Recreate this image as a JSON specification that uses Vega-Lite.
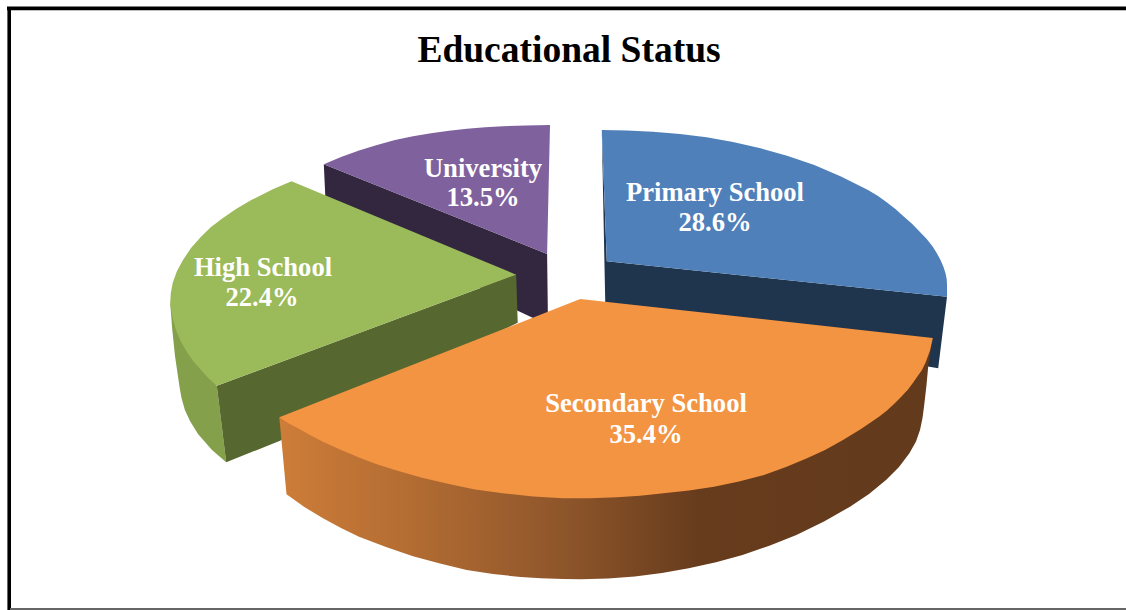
{
  "$schema": "https://vega.github.io/schema/vega-lite/v6.json",
  "width": 1126,
  "height": 610,
  "padding": 0,
  "autosize": "none",
  "background": "white",
  "config": {"view": {"stroke": null}},
  "datasets": {
    "outlines": [
      {"face": "University side", "step": 1, "x": 323.8, "y": 164.3},
      {"face": "University side", "step": 2, "x": 547.1, "y": 254},
      {"face": "University side", "step": 3, "x": 548, "y": 325},
      {"face": "University side", "step": 4, "x": 517.7, "y": 310.7},
      {"face": "University side", "step": 5, "x": 325.3, "y": 196},

      {"face": "University top", "step": 1, "x": 323.8, "y": 164.3},
      {"face": "University top", "step": 2, "x": 341, "y": 157},
      {"face": "University top", "step": 3, "x": 359, "y": 150.5},
      {"face": "University top", "step": 4, "x": 377, "y": 145},
      {"face": "University top", "step": 5, "x": 395, "y": 140},
      {"face": "University top", "step": 6, "x": 413, "y": 136.3},
      {"face": "University top", "step": 7, "x": 431, "y": 133.2},
      {"face": "University top", "step": 8, "x": 449, "y": 130.8},
      {"face": "University top", "step": 9, "x": 467, "y": 128.8},
      {"face": "University top", "step": 10, "x": 485, "y": 127.3},
      {"face": "University top", "step": 11, "x": 503, "y": 126.2},
      {"face": "University top", "step": 12, "x": 526, "y": 125.4},
      {"face": "University top", "step": 13, "x": 550, "y": 125},
      {"face": "University top", "step": 14, "x": 547.1, "y": 254},

      {"face": "Primary side", "step": 1, "x": 601.8, "y": 130},
      {"face": "Primary side", "step": 2, "x": 606.8, "y": 261.3},
      {"face": "Primary side", "step": 3, "x": 947, "y": 296.7},
      {"face": "Primary side", "step": 4, "x": 938.2, "y": 368.3},
      {"face": "Primary side", "step": 5, "x": 925, "y": 366},
      {"face": "Primary side", "step": 6, "x": 605.4, "y": 310},
      {"face": "Primary side", "step": 7, "x": 604.4, "y": 261},

      {"face": "Primary top", "step": 1, "x": 601.8, "y": 130},
      {"face": "Primary top", "step": 2, "x": 627, "y": 130.4},
      {"face": "Primary top", "step": 3, "x": 652.8, "y": 131.7},
      {"face": "Primary top", "step": 4, "x": 680, "y": 134},
      {"face": "Primary top", "step": 5, "x": 706.6, "y": 137.3},
      {"face": "Primary top", "step": 6, "x": 733, "y": 142},
      {"face": "Primary top", "step": 7, "x": 760.5, "y": 148.3},
      {"face": "Primary top", "step": 8, "x": 787, "y": 155.8},
      {"face": "Primary top", "step": 9, "x": 814.3, "y": 165},
      {"face": "Primary top", "step": 10, "x": 841, "y": 176.5},
      {"face": "Primary top", "step": 11, "x": 868, "y": 190},
      {"face": "Primary top", "step": 12, "x": 878, "y": 196},
      {"face": "Primary top", "step": 13, "x": 887, "y": 202.5},
      {"face": "Primary top", "step": 14, "x": 896, "y": 209.5},
      {"face": "Primary top", "step": 15, "x": 904, "y": 216.7},
      {"face": "Primary top", "step": 16, "x": 912, "y": 223.8},
      {"face": "Primary top", "step": 17, "x": 919, "y": 231},
      {"face": "Primary top", "step": 18, "x": 926.5, "y": 238.8},
      {"face": "Primary top", "step": 19, "x": 932.8, "y": 246.7},
      {"face": "Primary top", "step": 20, "x": 937, "y": 253.5},
      {"face": "Primary top", "step": 21, "x": 940.5, "y": 260},
      {"face": "Primary top", "step": 22, "x": 943.5, "y": 267},
      {"face": "Primary top", "step": 23, "x": 945.5, "y": 273.3},
      {"face": "Primary top", "step": 24, "x": 946.7, "y": 279},
      {"face": "Primary top", "step": 25, "x": 947, "y": 285},
      {"face": "Primary top", "step": 26, "x": 947, "y": 296.7},
      {"face": "Primary top", "step": 27, "x": 606.8, "y": 261.3},

      {"face": "High School rim", "step": 1, "x": 170.2, "y": 303.3},
      {"face": "High School rim", "step": 2, "x": 185, "y": 330},
      {"face": "High School rim", "step": 3, "x": 195, "y": 350},
      {"face": "High School rim", "step": 4, "x": 206, "y": 370},
      {"face": "High School rim", "step": 5, "x": 216.8, "y": 385.7},
      {"face": "High School rim", "step": 6, "x": 226.2, "y": 462.3},
      {"face": "High School rim", "step": 7, "x": 212, "y": 450},
      {"face": "High School rim", "step": 8, "x": 198, "y": 434},
      {"face": "High School rim", "step": 9, "x": 190, "y": 421},
      {"face": "High School rim", "step": 10, "x": 184.9, "y": 410},
      {"face": "High School rim", "step": 11, "x": 181.5, "y": 398},
      {"face": "High School rim", "step": 12, "x": 179.5, "y": 386.7},
      {"face": "High School rim", "step": 13, "x": 175, "y": 356},
      {"face": "High School rim", "step": 14, "x": 172.3, "y": 330},

      {"face": "High School side", "step": 1, "x": 516.2, "y": 274.7},
      {"face": "High School side", "step": 2, "x": 216.8, "y": 385.7},
      {"face": "High School side", "step": 3, "x": 226.2, "y": 462.3},
      {"face": "High School side", "step": 4, "x": 280, "y": 440.7},
      {"face": "High School side", "step": 5, "x": 517.7, "y": 322.7},

      {"face": "High School top", "step": 1, "x": 291.5, "y": 181.3},
      {"face": "High School top", "step": 2, "x": 516.2, "y": 274.7},
      {"face": "High School top", "step": 3, "x": 216.8, "y": 385.7},
      {"face": "High School top", "step": 4, "x": 208.5, "y": 378.3},
      {"face": "High School top", "step": 5, "x": 201, "y": 370},
      {"face": "High School top", "step": 6, "x": 193.5, "y": 361.5},
      {"face": "High School top", "step": 7, "x": 186.7, "y": 351.7},
      {"face": "High School top", "step": 8, "x": 180.8, "y": 341.5},
      {"face": "High School top", "step": 9, "x": 175.9, "y": 330},
      {"face": "High School top", "step": 10, "x": 172.3, "y": 317},
      {"face": "High School top", "step": 11, "x": 170.2, "y": 303.3},
      {"face": "High School top", "step": 12, "x": 170.8, "y": 293},
      {"face": "High School top", "step": 13, "x": 172.8, "y": 282.5},
      {"face": "High School top", "step": 14, "x": 177, "y": 271},
      {"face": "High School top", "step": 15, "x": 183, "y": 260},
      {"face": "High School top", "step": 16, "x": 191, "y": 248},
      {"face": "High School top", "step": 17, "x": 201, "y": 236.7},
      {"face": "High School top", "step": 18, "x": 211, "y": 227},
      {"face": "High School top", "step": 19, "x": 222.6, "y": 218.3},
      {"face": "High School top", "step": 20, "x": 236, "y": 209},
      {"face": "High School top", "step": 21, "x": 251.3, "y": 200},
      {"face": "High School top", "step": 22, "x": 272.8, "y": 189.3}
    ],
    "secondaryRim": [
      {"step": 1, "x": 279.3, "y": 417.3},
      {"step": 2, "x": 580, "y": 480},
      {"step": 3, "x": 932.8, "y": 338},
      {"step": 4, "x": 928.5, "y": 363.3},
      {"step": 5, "x": 926.5, "y": 385},
      {"step": 6, "x": 924, "y": 406.7},
      {"step": 7, "x": 922.5, "y": 418},
      {"step": 8, "x": 920, "y": 430},
      {"step": 9, "x": 916, "y": 441.5},
      {"step": 10, "x": 909.4, "y": 453.3},
      {"step": 11, "x": 899, "y": 467},
      {"step": 12, "x": 886, "y": 480},
      {"step": 13, "x": 869, "y": 494},
      {"step": 14, "x": 850, "y": 506.7},
      {"step": 15, "x": 824, "y": 521.5},
      {"step": 16, "x": 796.4, "y": 535},
      {"step": 17, "x": 770, "y": 545.5},
      {"step": 18, "x": 742.5, "y": 555},
      {"step": 19, "x": 716, "y": 562.3},
      {"step": 20, "x": 688.7, "y": 568.3},
      {"step": 21, "x": 662, "y": 573},
      {"step": 22, "x": 634.8, "y": 576.5},
      {"step": 23, "x": 608, "y": 578.5},
      {"step": 24, "x": 581, "y": 579.3},
      {"step": 25, "x": 563, "y": 579},
      {"step": 26, "x": 541, "y": 578.3},
      {"step": 27, "x": 520.6, "y": 577},
      {"step": 28, "x": 493, "y": 574},
      {"step": 29, "x": 466.7, "y": 570},
      {"step": 30, "x": 440, "y": 563.5},
      {"step": 31, "x": 413, "y": 556.2},
      {"step": 32, "x": 386, "y": 547},
      {"step": 33, "x": 359, "y": 536.7},
      {"step": 34, "x": 341, "y": 528},
      {"step": 35, "x": 323, "y": 518.3},
      {"step": 36, "x": 304, "y": 506.8},
      {"step": 37, "x": 286.5, "y": 494.3}
    ],
    "secondaryTop": [
      {"step": 1, "x": 279.3, "y": 417.3},
      {"step": 2, "x": 580.2, "y": 299},
      {"step": 3, "x": 932.8, "y": 338},
      {"step": 4, "x": 930, "y": 350.5},
      {"step": 5, "x": 925.6, "y": 362.5},
      {"step": 6, "x": 922, "y": 370},
      {"step": 7, "x": 917, "y": 377},
      {"step": 8, "x": 912.5, "y": 383.5},
      {"step": 9, "x": 907.6, "y": 390},
      {"step": 10, "x": 901, "y": 397},
      {"step": 11, "x": 894, "y": 404},
      {"step": 12, "x": 887, "y": 410.5},
      {"step": 13, "x": 879, "y": 416.7},
      {"step": 14, "x": 861, "y": 429},
      {"step": 15, "x": 843, "y": 440},
      {"step": 16, "x": 825, "y": 450},
      {"step": 17, "x": 807, "y": 458.3},
      {"step": 18, "x": 786, "y": 467},
      {"step": 19, "x": 764, "y": 475},
      {"step": 20, "x": 739, "y": 481.5},
      {"step": 21, "x": 714, "y": 486.7},
      {"step": 22, "x": 689, "y": 490.5},
      {"step": 23, "x": 663.5, "y": 493.3},
      {"step": 24, "x": 640, "y": 495.7},
      {"step": 25, "x": 617, "y": 497.3},
      {"step": 26, "x": 590, "y": 498.3},
      {"step": 27, "x": 563, "y": 498.3},
      {"step": 28, "x": 533, "y": 496.5},
      {"step": 29, "x": 502.6, "y": 493.3},
      {"step": 30, "x": 475, "y": 489.5},
      {"step": 31, "x": 448.8, "y": 484},
      {"step": 32, "x": 421, "y": 477.5},
      {"step": 33, "x": 395, "y": 470},
      {"step": 34, "x": 376, "y": 464},
      {"step": 35, "x": 359, "y": 457.5},
      {"step": 36, "x": 340, "y": 449.5},
      {"step": 37, "x": 323, "y": 441.7},
      {"step": 38, "x": 310, "y": 435},
      {"step": 39, "x": 298, "y": 428.3},
      {"step": 40, "x": 288, "y": 423}
    ],
    "labels": [
      {"text": "Educational Status", "x": 569, "y": 51, "kind": "title"},
      {"text": "University", "x": 483, "y": 168.5, "kind": "slice"},
      {"text": "13.5%", "x": 483, "y": 198, "kind": "slice"},
      {"text": "Primary School", "x": 715, "y": 192.5, "kind": "slice"},
      {"text": "28.6%", "x": 715, "y": 223, "kind": "slice"},
      {"text": "High School", "x": 263, "y": 267.5, "kind": "slice"},
      {"text": "22.4%", "x": 262, "y": 298, "kind": "slice"},
      {"text": "Secondary School", "x": 646, "y": 403.5, "kind": "slice"},
      {"text": "35.4%", "x": 646, "y": 434.5, "kind": "slice"}
    ],
    "frame": [
      {"edge": "top", "x": 7, "x2": 1126, "y": 8.4, "y2": 8.4},
      {"edge": "left", "x": 9.2, "x2": 9.2, "y": 7, "y2": 610}
    ],
    "frameBase": [
      {"edge": "bottom", "x": 10, "x2": 1126, "y": 609, "y2": 609}
    ]
  },
  "layer": [
    {
      "data": {"name": "outlines"},
      "mark": {"type": "line", "strokeWidth": 0, "interpolate": "linear-closed", "clip": true},
      "encoding": {
        "x": {"field": "x", "type": "quantitative", "scale": {"domain": [0, 1126], "nice": false, "zero": false}, "axis": null},
        "y": {"field": "y", "type": "quantitative", "scale": {"domain": [610, 0], "nice": false, "zero": false}, "axis": null},
        "order": {"field": "step", "type": "quantitative"},
        "detail": {"field": "face"},
        "fill": {
          "field": "face",
          "type": "nominal",
          "legend": null,
          "scale": {
            "domain": ["University side", "University top", "Primary side", "Primary top", "High School rim", "High School side", "High School top"],
            "range": ["#32273F", "#7F619D", "#1F344D", "#4F80BA", "#84A04A", "#56672F", "#9BBA59"]
          }
        }
      }
    },
    {
      "data": {"name": "secondaryRim"},
      "mark": {
        "type": "line",
        "strokeWidth": 0,
        "interpolate": "linear-closed",
        "fill": {
          "gradient": "linear", "x1": 0, "x2": 1, "y1": 0, "y2": 0,
          "stops": [
            {"offset": 0, "color": "#CD7D38"},
            {"offset": 0.18, "color": "#B66E33"},
            {"offset": 0.43, "color": "#8F562B"},
            {"offset": 0.64, "color": "#673C1D"},
            {"offset": 1, "color": "#633A1C"}
          ]
        }
      },
      "encoding": {
        "x": {"field": "x", "type": "quantitative", "axis": null},
        "y": {"field": "y", "type": "quantitative", "axis": null},
        "order": {"field": "step", "type": "quantitative"}
      }
    },
    {
      "data": {"name": "secondaryTop"},
      "mark": {"type": "line", "strokeWidth": 0, "interpolate": "linear-closed", "fill": "#F39443"},
      "encoding": {
        "x": {"field": "x", "type": "quantitative", "axis": null},
        "y": {"field": "y", "type": "quantitative", "axis": null},
        "order": {"field": "step", "type": "quantitative"}
      }
    },
    {
      "data": {"name": "frame"},
      "mark": {"type": "rule", "color": "#000000", "strokeWidth": 3.6},
      "encoding": {
        "x": {"field": "x", "type": "quantitative", "axis": null},
        "x2": {"field": "x2"},
        "y": {"field": "y", "type": "quantitative", "axis": null},
        "y2": {"field": "y2"}
      }
    },
    {
      "data": {"name": "frameBase"},
      "mark": {"type": "rule", "color": "#666666", "strokeWidth": 2},
      "encoding": {
        "x": {"field": "x", "type": "quantitative", "axis": null},
        "x2": {"field": "x2"},
        "y": {"field": "y", "type": "quantitative", "axis": null},
        "y2": {"field": "y2"}
      }
    },
    {
      "data": {"name": "labels"},
      "transform": [{"filter": "datum.kind === 'slice'"}],
      "mark": {"type": "text", "font": "Liberation Serif", "fontWeight": "bold", "fontSize": 26.6, "color": "#FFFFFF", "align": "center", "baseline": "middle"},
      "encoding": {
        "x": {"field": "x", "type": "quantitative", "axis": null},
        "y": {"field": "y", "type": "quantitative", "axis": null},
        "text": {"field": "text"}
      }
    },
    {
      "data": {"name": "labels"},
      "transform": [{"filter": "datum.kind === 'title'"}],
      "mark": {"type": "text", "font": "Liberation Serif", "fontWeight": "bold", "fontSize": 37.5, "color": "#000000", "align": "center", "baseline": "middle"},
      "encoding": {
        "x": {"field": "x", "type": "quantitative", "axis": null},
        "y": {"field": "y", "type": "quantitative", "axis": null},
        "text": {"field": "text"}
      }
    }
  ]
}
